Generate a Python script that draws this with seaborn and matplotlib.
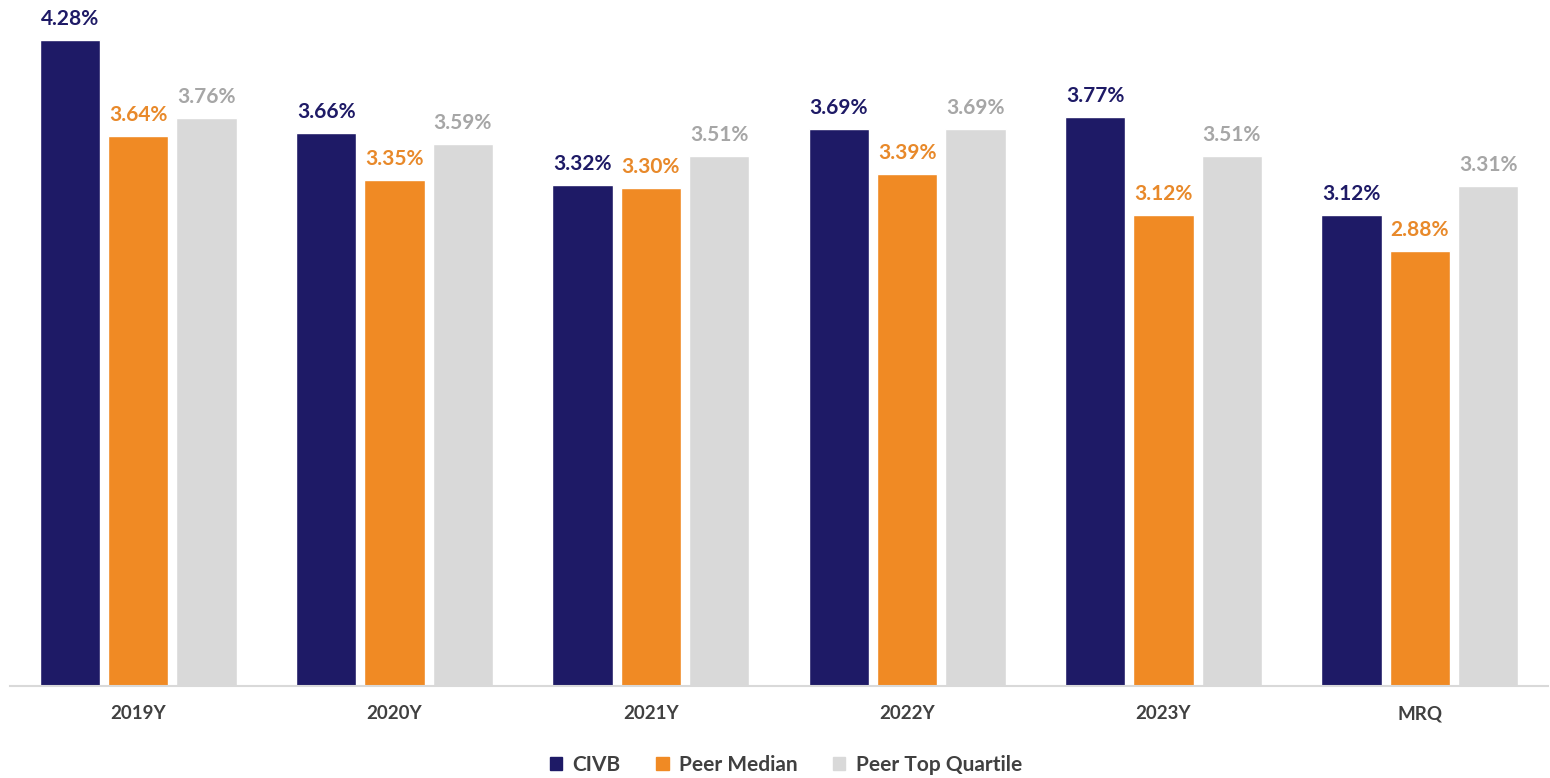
import matplotlib
matplotlib.use("Agg")
import matplotlib.pyplot as plt
import seaborn as sns
import pandas as pd

categories = ["2019Y", "2020Y", "2021Y", "2022Y", "2023Y", "MRQ"]
civb = [4.28, 3.66, 3.32, 3.69, 3.77, 3.12]
peer_median = [3.64, 3.35, 3.30, 3.39, 3.12, 2.88]
peer_top_quartile = [3.76, 3.59, 3.51, 3.69, 3.51, 3.31]
series_names = ["CIVB", "Peer Median", "Peer Top Quartile"]

colors = ["#1E1A66", "#F08A24", "#D9D9D9"]
label_colors = ["#1E1A66", "#E8892A", "#A6A6A6"]

df = pd.DataFrame({
    "category": categories * 3,
    "series": [series_names[0]] * 6 + [series_names[1]] * 6 + [series_names[2]] * 6,
    "value": civb + peer_median + peer_top_quartile,
})

sns.set_theme(style="white")
plt.rcParams["font.family"] = ["Lato", "DejaVu Sans"]

fig = plt.figure(figsize=(15.5, 7.78), dpi=100)
ax = fig.add_axes([10 / 1550, (778 - 686) / 778, 1538 / 1550, 686 / 778])

sns.barplot(data=df, x="category", y="value", hue="series", order=categories,
            hue_order=series_names, palette=colors, width=0.8, gap=0.12,
            saturation=1, ax=ax, legend=True)

for cont, lc in zip(ax.containers, label_colors):
    ax.bar_label(cont, labels=[f"{v:.2f}%" for v in cont.datavalues],
                 padding=8, color=lc, fontsize=15, fontweight="bold")

ax.set_ylim(0, 686 / 151)
ax.set_xlim(-0.5, 5.5)
ax.set_xlabel("")
ax.set_ylabel("")
ax.set_yticks([])
for s in ["top", "right", "left"]:
    ax.spines[s].set_visible(False)
ax.spines["bottom"].set_color("#D9D9D9")
ax.spines["bottom"].set_linewidth(1.5)
ax.tick_params(axis="x", length=0, pad=14, labelsize=13.5, labelcolor="#404040")
for t in ax.get_xticklabels():
    t.set_fontweight("bold")

ax.legend_.remove()
handles = [plt.Rectangle((0, 0), 1, 1, color=c) for c in colors]
fig.legend(handles, series_names, loc="center", bbox_to_anchor=(0.507, 13 / 778),
           ncol=3, frameon=False, handlelength=0.6, handleheight=0.6,
           handletextpad=0.5, columnspacing=1.7,
           prop={"size": 15, "weight": "bold"}, labelcolor="#404040")

fig.savefig("out.png", dpi=100)
